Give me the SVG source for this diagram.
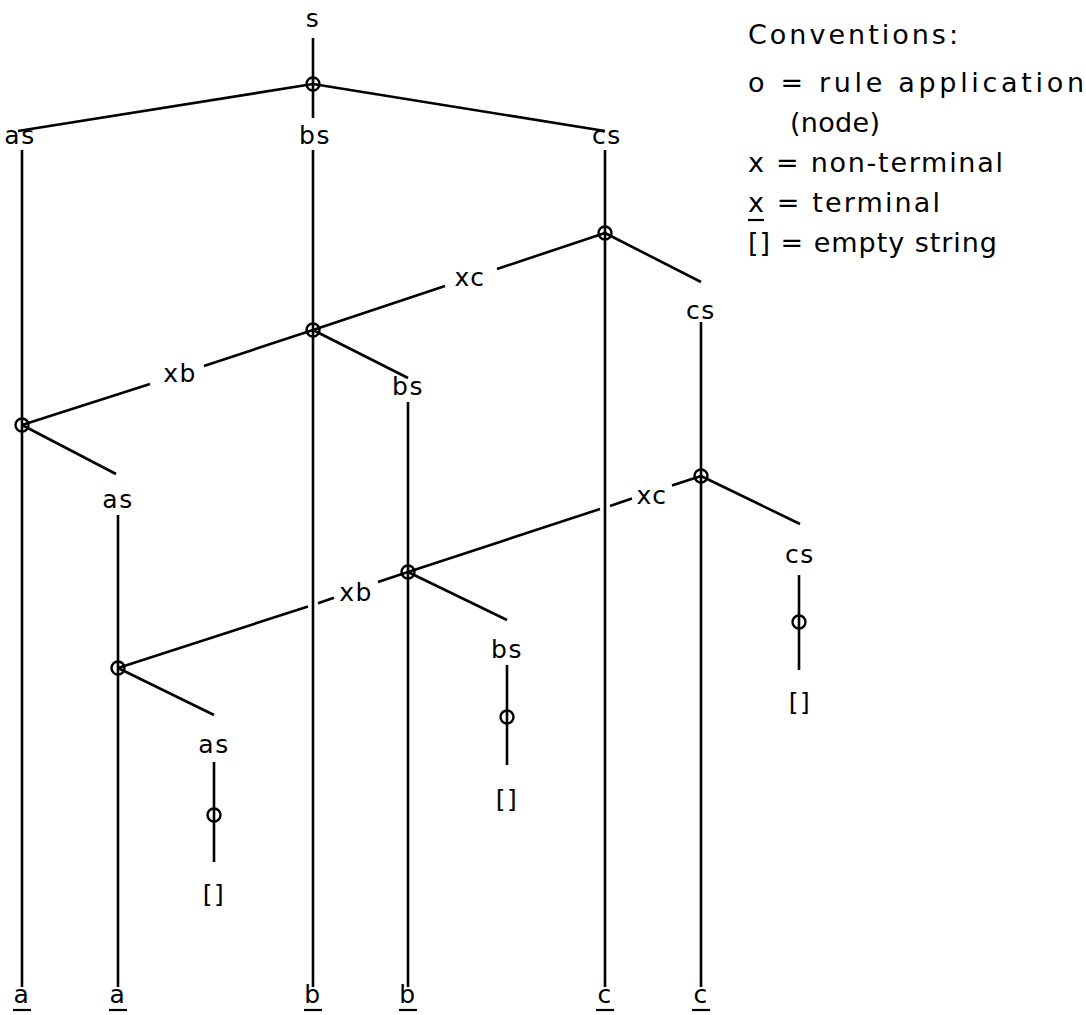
<svg xmlns="http://www.w3.org/2000/svg" width="1086" height="1015" viewBox="0 0 1086 1015">
<style>
  .ln{stroke:#000;stroke-width:2.6;fill:none;stroke-linecap:butt}
  .nd{stroke:#000;stroke-width:2.4;fill:none}
  .t{font-family:"DejaVu Sans","Liberation Sans",sans-serif;font-size:25px;fill:#000;text-anchor:middle;letter-spacing:1.5px}
  .cv{font-family:"DejaVu Sans","Liberation Sans",sans-serif;font-size:27px;fill:#000}
  .ul{stroke:#000;stroke-width:2.2}
</style>
<rect width="1086" height="1015" fill="#fff"/>
<g id="connectors">
  <line class="ln" x1="313" y1="38" x2="313" y2="84"/>
  <line class="ln" x1="313" y1="84" x2="313" y2="118"/>
  <line class="ln" x1="313" y1="84" x2="18" y2="131"/>
  <line class="ln" x1="313" y1="84" x2="605" y2="131"/>
  <line class="ln" x1="22" y1="150" x2="22" y2="987"/>
  <line class="ln" x1="313" y1="150" x2="313" y2="987"/>
  <line class="ln" x1="605" y1="150" x2="605" y2="987"/>
  <line class="ln" x1="605" y1="233" x2="497" y2="269"/>
  <line class="ln" x1="445" y1="286" x2="313" y2="330"/>
  <line class="ln" x1="605" y1="233" x2="701" y2="282"/>
  <line class="ln" x1="701" y1="322" x2="701" y2="987"/>
  <line class="ln" x1="313" y1="330" x2="204" y2="366"/>
  <line class="ln" x1="150" y1="384" x2="22" y2="425"/>
  <line class="ln" x1="313" y1="330" x2="408" y2="378"/>
  <line class="ln" x1="408" y1="402" x2="408" y2="987"/>
  <line class="ln" x1="22" y1="425" x2="116" y2="474"/>
  <line class="ln" x1="118" y1="515" x2="118" y2="987"/>
  <line class="ln" x1="701" y1="476" x2="672" y2="485.5"/>
  <line class="ln" x1="632" y1="498.5" x2="610" y2="506"/>
  <line class="ln" x1="600" y1="509" x2="408" y2="572"/>
  <line class="ln" x1="701" y1="476" x2="800" y2="524"/>
  <line class="ln" x1="799" y1="575" x2="799" y2="670"/>
  <line class="ln" x1="408" y1="572" x2="378" y2="582"/>
  <line class="ln" x1="334" y1="597.8" x2="318" y2="603.2"/>
  <line class="ln" x1="308" y1="606.5" x2="118" y2="668"/>
  <line class="ln" x1="408" y1="572" x2="507" y2="620"/>
  <line class="ln" x1="507" y1="665" x2="507" y2="765"/>
  <line class="ln" x1="118" y1="668" x2="214" y2="715"/>
  <line class="ln" x1="214" y1="762" x2="214" y2="862"/>
</g>
<g id="node-s"><text class="t" x="313" y="27">s</text><circle class="nd" cx="313" cy="84" r="6.5"/></g>
<g id="node-as1"><text class="t" x="20" y="144">as</text><circle class="nd" cx="22" cy="425" r="6.5"/></g>
<g id="node-bs1"><text class="t" x="315" y="144">bs</text><circle class="nd" cx="313" cy="330" r="6.5"/></g>
<g id="node-cs1"><text class="t" x="607" y="144">cs</text><circle class="nd" cx="605" cy="233" r="6.5"/></g>
<g id="label-xc1"><text class="t" x="470" y="286">xc</text></g>
<g id="label-xb1"><text class="t" x="180" y="382">xb</text></g>
<g id="node-cs2"><text class="t" x="701" y="319">cs</text><circle class="nd" cx="701" cy="476" r="6.5"/></g>
<g id="node-bs2"><text class="t" x="408" y="395">bs</text><circle class="nd" cx="408" cy="572" r="6.5"/></g>
<g id="node-as2"><text class="t" x="118" y="508">as</text><circle class="nd" cx="118" cy="668" r="6.5"/></g>
<g id="label-xc2"><text class="t" x="652" y="504">xc</text></g>
<g id="label-xb2"><text class="t" x="356" y="601">xb</text></g>
<g id="node-cs3"><text class="t" x="800" y="563">cs</text><circle class="nd" cx="799" cy="622" r="6.5"/><text class="t" x="800" y="711">[]</text></g>
<g id="node-bs3"><text class="t" x="507" y="658">bs</text><circle class="nd" cx="507" cy="717" r="6.5"/><text class="t" x="507" y="808">[]</text></g>
<g id="node-as3"><text class="t" x="214" y="753">as</text><circle class="nd" cx="214" cy="815" r="6.5"/><text class="t" x="214" y="903">[]</text></g>
<g id="terminals">
  <text class="t" x="22" y="1003">a</text><line class="ul" x1="13" y1="1010" x2="31" y2="1010"/>
  <text class="t" x="118" y="1003">a</text><line class="ul" x1="109" y1="1010" x2="127" y2="1010"/>
  <text class="t" x="313" y="1003">b</text><line class="ul" x1="304" y1="1010" x2="322" y2="1010"/>
  <text class="t" x="408" y="1003">b</text><line class="ul" x1="399" y1="1010" x2="417" y2="1010"/>
  <text class="t" x="605" y="1003">c</text><line class="ul" x1="596" y1="1010" x2="614" y2="1010"/>
  <text class="t" x="701" y="1003">c</text><line class="ul" x1="692" y1="1010" x2="710" y2="1010"/>
</g>
<g id="conventions">
  <text class="cv" x="748" y="44" textLength="210" lengthAdjust="spacing">Conventions:</text>
  <text class="cv" x="748" y="92" textLength="336" lengthAdjust="spacing">o = rule application</text>
  <text class="cv" x="790" y="132" textLength="90" lengthAdjust="spacing">(node)</text>
  <text class="cv" x="748" y="172" textLength="255" lengthAdjust="spacing">x = non-terminal</text>
  <text class="cv" x="748" y="212" textLength="192" lengthAdjust="spacing">x = terminal</text>
  <line class="ul" x1="748" y1="220" x2="764" y2="220"/>
  <text class="cv" x="748" y="252" textLength="249" lengthAdjust="spacing">[] = empty string</text>
</g>
</svg>
